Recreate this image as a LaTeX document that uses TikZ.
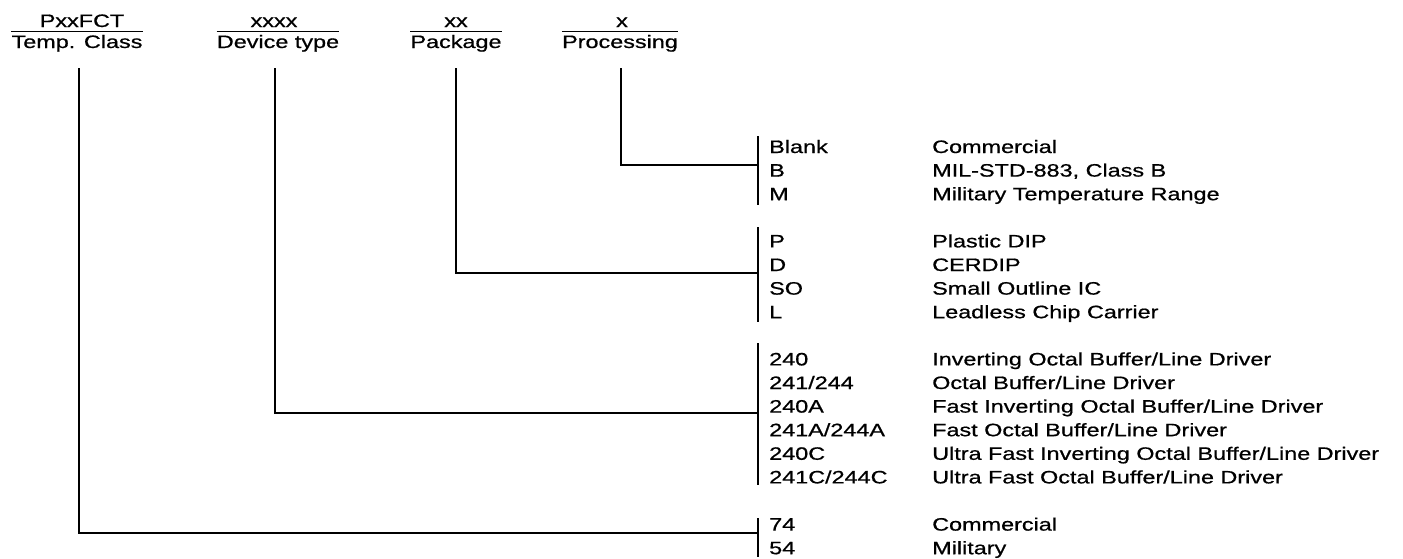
\documentclass[tikz,border=0pt]{standalone}
\usepackage{fontspec}
\setmainfont{Liberation Sans}[FakeStretch=1.3,FakeBold=0.7]
\begin{document}
\begin{tikzpicture}[x=1pt,y=-1pt,
  font=\fontsize{18}{22}\selectfont,
  txt/.style={anchor=base west, inner sep=0pt},
  hdr/.style={anchor=base, inner xsep=0pt, inner ysep=3pt},
  toptxt/.style={anchor=base, inner sep=0pt},
  ln/.style={line width=1.5pt},
  rule/.style={line width=1.3pt}]
\useasboundingbox (0,0) rectangle (1403,558);

% headers
\node[hdr] (hT) at (77,48) {Temp. Class};
\node[toptxt] (tT) at (82,27) {PxxFCT};
\node[hdr] (hD) at (278,48) {Device type};
\node[toptxt] (tD) at (274,27) {xxxx};
\node[hdr] (hP) at (456,48) {Package};
\node[toptxt] (tP) at (456,27) {xx};
\node[hdr] (hX) at (620,48) {Processing};
\node[toptxt] (tX) at (622,27) {x};
\foreach \h in {hT,hD,hP,hX} \draw[rule] (\h.north west) -- (\h.north east);

% codes and descriptions
\def\cx{769}\def\dx{932}
\node[txt] (c1a) at (\cx,153) {Blank};     \node[txt] (d1a) at (\dx,153) {Commercial};
\node[txt] (c1b) at (\cx,176.6) {B};       \node[txt] (d1b) at (\dx,176.6) {MIL-STD-883, Class B};
\node[txt] (c1c) at (\cx,200.2) {M};       \node[txt] (d1c) at (\dx,200.2) {Military Temperature Range};

\node[txt] (c2a) at (\cx,247.4) {P};       \node[txt] (d2a) at (\dx,247.4) {Plastic DIP};
\node[txt] (c2b) at (\cx,271) {D};         \node[txt] (d2b) at (\dx,271) {CERDIP};
\node[txt] (c2c) at (\cx,294.6) {SO};      \node[txt] (d2c) at (\dx,294.6) {Small Outline IC};
\node[txt] (c2d) at (\cx,318.2) {L};       \node[txt] (d2d) at (\dx,318.2) {Leadless Chip Carrier};

\node[txt] (c3a) at (\cx,365.4) {240};        \node[txt] (d3a) at (\dx,365.4) {Inverting Octal Buffer/Line Driver};
\node[txt] (c3b) at (\cx,389) {241/244};      \node[txt] (d3b) at (\dx,389) {Octal Buffer/Line Driver};
\node[txt] (c3c) at (\cx,412.6) {240A};       \node[txt] (d3c) at (\dx,412.6) {Fast Inverting Octal Buffer/Line Driver};
\node[txt] (c3d) at (\cx,436.2) {241A/244A};  \node[txt] (d3d) at (\dx,436.2) {Fast Octal Buffer/Line Driver};
\node[txt] (c3e) at (\cx,459.8) {240C};       \node[txt] (d3e) at (\dx,459.8) {Ultra Fast Inverting Octal Buffer/Line Driver};
\node[txt] (c3f) at (\cx,483.4) {241C/244C};  \node[txt] (d3f) at (\dx,483.4) {Ultra Fast Octal Buffer/Line Driver};

\node[txt] (c4a) at (\cx,530.6) {74};      \node[txt] (d4a) at (\dx,530.6) {Commercial};
\node[txt] (c4b) at (\cx,554.2) {54};      \node[txt] (d4b) at (\dx,554.2) {Military};

% brackets
\def\bx{758}
\coordinate (b1t) at (\bx,136); \coordinate (b1b) at (\bx,205);
\coordinate (b2t) at (\bx,227); \coordinate (b2b) at (\bx,322);
\coordinate (b3t) at (\bx,343); \coordinate (b3b) at (\bx,485);
\coordinate (b4t) at (\bx,518); \coordinate (b4b) at (\bx,557);
\foreach \g in {1,2,3,4} \draw[ln] (b\g t) -- (b\g b);

% junctions on the brackets
\coordinate (jX) at (\bx,165);
\coordinate (jP) at (\bx,273);
\coordinate (jD) at (\bx,413);
\coordinate (jT) at (\bx,533);

% start points under the headers
\coordinate (sT) at (79,68);
\coordinate (sD) at (275,68);
\coordinate (sP) at (456,68);
\coordinate (sX) at (621,68);

\draw[ln] (sX) |- (jX);
\draw[ln] (sP) |- (jP);
\draw[ln] (sD) |- (jD);
\draw[ln] (sT) |- (jT);
\end{tikzpicture}
\end{document}
